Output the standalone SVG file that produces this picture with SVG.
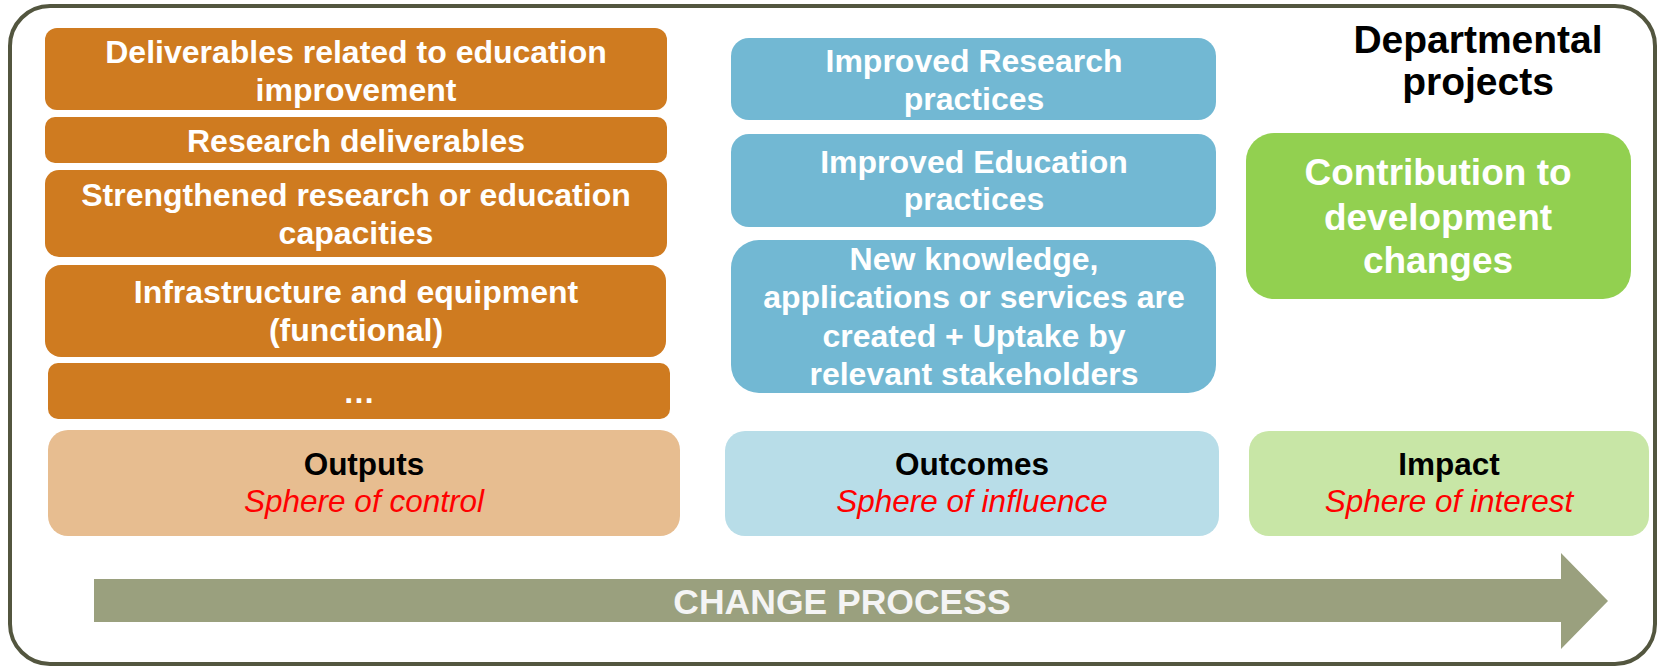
<svg xmlns="http://www.w3.org/2000/svg" width="1659" height="667" viewBox="0 0 1659 667">
<style>
.t{font-family:"Liberation Sans",Arial,sans-serif;font-weight:bold;fill:#ffffff;text-anchor:middle;font-size:32px}
.h{font-family:"Liberation Sans",Arial,sans-serif;font-weight:bold;fill:#000000;text-anchor:middle;font-size:31.5px}
.s{font-family:"Liberation Sans",Arial,sans-serif;font-style:italic;fill:#ff0000;text-anchor:middle;font-size:31.5px}
.or{fill:#cf7b20}
.bl{fill:#72b8d3}
</style>
<rect x="10" y="6" width="1645" height="658" rx="40" fill="#ffffff" stroke="#53563f" stroke-width="4"/>
<g id="connectors">
<polygon points="94,579 1561,579 1561,553 1608,601 1561,649 1561,622 94,622" fill="#9aa07e"/>
<text x="842" y="614" class="t" style="font-size:35.5px;fill:#f4f4f4">CHANGE PROCESS</text>
</g>
<g id="out1"><rect class="or" x="45" y="28" width="622" height="82" rx="12"/>
<text class="t" x="356" y="63">Deliverables related to education</text><text class="t" x="356" y="101">improvement</text></g>
<g id="out2"><rect class="or" x="45" y="117" width="622" height="46" rx="10"/>
<text class="t" x="356" y="152">Research deliverables</text></g>
<g id="out3"><rect class="or" x="45" y="170" width="622" height="87" rx="14"/>
<text class="t" x="356" y="206">Strengthened research or education</text><text class="t" x="356" y="244">capacities</text></g>
<g id="out4"><rect class="or" x="45" y="265" width="621" height="92" rx="16"/>
<text class="t" x="356" y="303">Infrastructure and equipment</text><text class="t" x="356" y="341">(functional)</text></g>
<g id="out5"><rect class="or" x="48" y="363" width="622" height="56" rx="10"/>
<text class="t" x="359" y="403">…</text></g>
<g id="outputs"><rect x="48" y="430" width="632" height="106" rx="20" fill="#e7bd90"/>
<text class="h" x="364" y="475">Outputs</text><text class="s" x="364" y="512">Sphere of control</text></g>
<g id="oc1"><rect class="bl" x="731" y="38" width="485" height="82" rx="18"/>
<text class="t" x="974" y="72">Improved Research</text><text class="t" x="974" y="110">practices</text></g>
<g id="oc2"><rect class="bl" x="731" y="134" width="485" height="93" rx="18"/>
<text class="t" x="974" y="173">Improved Education</text><text class="t" x="974" y="210">practices</text></g>
<g id="oc3"><rect class="bl" x="731" y="240" width="485" height="153" rx="28"/>
<text class="t" x="974" y="270">New knowledge,</text><text class="t" x="974" y="308">applications or services are</text><text class="t" x="974" y="347">created + Uptake by</text><text class="t" x="974" y="385">relevant stakeholders</text></g>
<g id="outcomes"><rect x="725" y="431" width="494" height="105" rx="20" fill="#b8dde8"/>
<text class="h" x="972" y="475">Outcomes</text><text class="s" x="972" y="512">Sphere of influence</text></g>
<g id="dept"><text class="h" x="1478" y="53" style="font-size:39px">Departmental</text><text class="h" x="1478" y="95" style="font-size:39px">projects</text></g>
<g id="contrib"><rect x="1246" y="133" width="385" height="166" rx="28" fill="#92d050"/>
<text class="t" x="1438" y="185" style="font-size:37px">Contribution to</text><text class="t" x="1438" y="230" style="font-size:37px">development</text><text class="t" x="1438" y="273" style="font-size:37px">changes</text></g>
<g id="impact"><rect x="1249" y="431" width="400" height="105" rx="20" fill="#c8e6a6"/>
<text class="h" x="1449" y="475">Impact</text><text class="s" x="1449" y="512">Sphere of interest</text></g>
</svg>
